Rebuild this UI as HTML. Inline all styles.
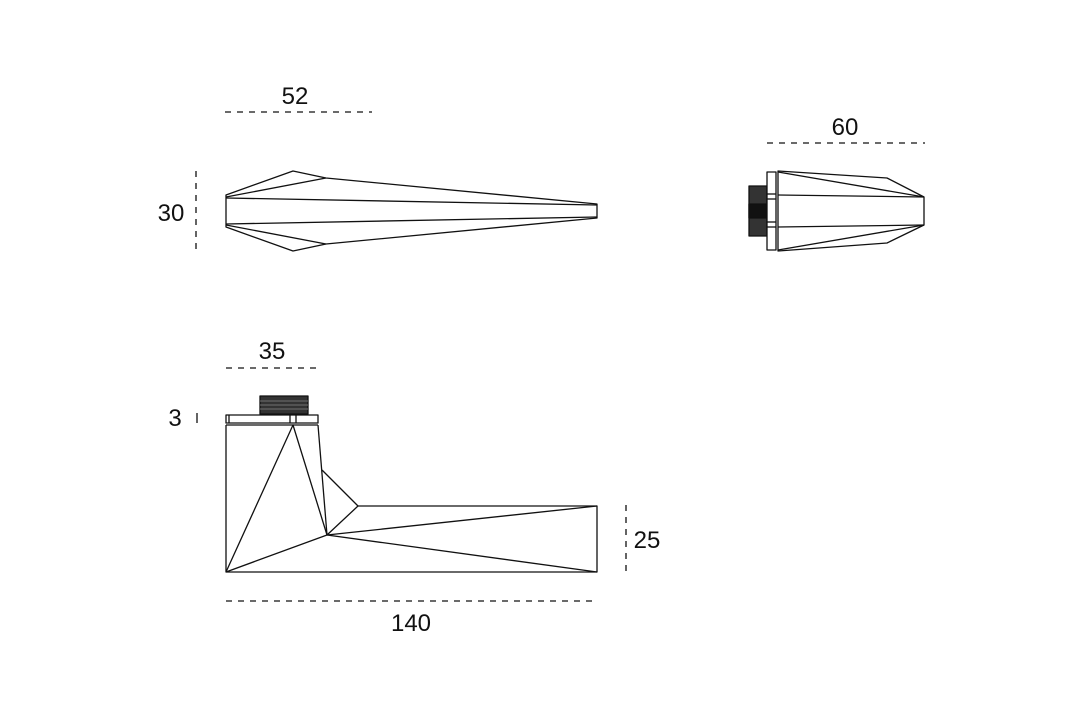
<!DOCTYPE html>
<html><head><meta charset="utf-8"><style>
html,body{margin:0;padding:0;background:#fff;}
svg{display:block;}
text{font-family:"Liberation Sans",sans-serif;font-size:24px;fill:#111;}
</style></head><body>
<svg width="1080" height="720" viewBox="0 0 1080 720" xmlns="http://www.w3.org/2000/svg">
<g fill="none" stroke="#111" stroke-width="1.3" stroke-linejoin="round">
<polygon points="226,195 293,171 326,178 597,204 597,218 326,244 293,251 226,227"/>
<line x1="226" y1="198" x2="597" y2="205"/>
<line x1="226" y1="224" x2="597" y2="217"/>
<line x1="226" y1="197" x2="326" y2="178"/>
<line x1="226" y1="225" x2="326" y2="244"/>
<rect x="749" y="186" width="18" height="50" fill="#333"/>
<rect x="749" y="204" width="18" height="14" fill="#111"/>
<rect x="767" y="172" width="9" height="78" fill="#fff"/>
<line x1="767" y1="194" x2="776" y2="194"/><line x1="767" y1="199" x2="776" y2="199"/>
<line x1="767" y1="222" x2="776" y2="222"/><line x1="767" y1="227" x2="776" y2="227"/>
<polygon points="778,171 887,178 924,197 924,225 887,243 778,251"/>
<line x1="778" y1="172" x2="924" y2="197"/>
<line x1="778" y1="195" x2="924" y2="197"/>
<line x1="778" y1="227" x2="924" y2="225"/>
<line x1="778" y1="250" x2="924" y2="225"/>
<rect x="260" y="396" width="48" height="18" fill="#333"/>
<line x1="260" y1="401" x2="308" y2="401" stroke="#888" stroke-width="0.8"/>
<line x1="260" y1="405" x2="308" y2="405" stroke="#888" stroke-width="0.8"/>
<line x1="260" y1="409" x2="308" y2="409" stroke="#888" stroke-width="0.8"/>
<rect x="226" y="415" width="92" height="8" fill="#fff"/>
<line x1="229" y1="415" x2="229" y2="423"/>
<line x1="290" y1="415" x2="290" y2="423"/><line x1="296" y1="415" x2="296" y2="423"/>
<polyline points="226,425 226,572 597,572 597,506 358,506"/>
<line x1="226" y1="425" x2="318" y2="425"/>
<line x1="318" y1="425" x2="327" y2="535"/>
<polyline points="226,572 293,425 327,535"/>
<polyline points="322,470 358,506 327,535"/>
<line x1="226" y1="572" x2="327" y2="535"/>
<line x1="327" y1="535" x2="597" y2="506"/>
<line x1="327" y1="535" x2="597" y2="572"/>
</g>
<g stroke="#111" stroke-width="1.3" stroke-dasharray="6,6" fill="none">
<line x1="225" y1="112" x2="372" y2="112"/>
<line x1="196" y1="171" x2="196" y2="251"/>
<line x1="767" y1="143" x2="925" y2="143"/>
<line x1="226" y1="368" x2="318" y2="368"/>
<line x1="197" y1="413" x2="197" y2="423" stroke-dasharray="none"/>
<line x1="626" y1="505" x2="626" y2="572"/>
<line x1="226" y1="601" x2="597" y2="601"/>
</g>
<g text-anchor="middle">
<text x="295" y="104">52</text>
<text x="171" y="221">30</text>
<text x="845" y="135">60</text>
<text x="272" y="359">35</text>
<text x="175" y="426">3</text>
<text x="647" y="548">25</text>
<text x="411" y="631">140</text>
</g>
</svg>
</body></html>
